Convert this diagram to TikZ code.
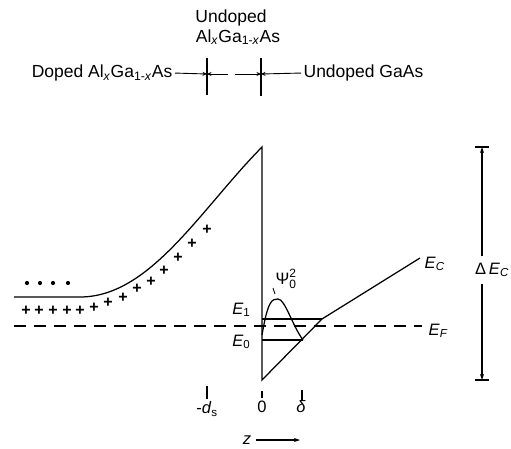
\documentclass[tikz,border=0pt]{standalone}
\usepackage{fontspec}
\setmainfont{Liberation Sans}
\usetikzlibrary{arrows.meta,positioning,calc}

\begin{document}
\begin{tikzpicture}[
  x=1pt, y=-1pt,
  >={Stealth[length=6pt,width=4pt]},
  line width=1.25pt,
  every node/.style={font=\fontsize{17.5}{19}\selectfont, inner sep=0pt},
  elabel/.style={font=\fontsize{16.5}{18}\selectfont},
  tip/.style={line width=0.9pt, -{Stealth[length=4.5pt,width=4pt]}},
  donor/.style={font=\fontsize{16}{16}\selectfont\bfseries}
]
  \useasboundingbox (0,0) rectangle (511,449);

  % Layer labels
  \node (undoped) at (231,18) {Undoped};
  \node (algaas) at (238,37) {Al\textsubscript{\textit{x}}Ga\textsubscript{1-\textit{x}}As};
  \node (doped) [anchor=east] at (173,73) {Doped Al\textsubscript{\textit{x}}Ga\textsubscript{1-\textit{x}}As};
  \node (gaas) [anchor=west] at (303,73) {Undoped GaAs};

  % Interfaces
  \coordinate (ifA) at (207,74);
  \coordinate (ifB) at (261,74);
  \coordinate (endA) at (228,74);
  \coordinate (startB) at (235,74);
  \draw ([yshift=16pt]ifA) -- ([yshift=-21pt]ifA);
  \draw ([yshift=16pt]ifB) -- ([yshift=-22pt]ifB);
  \draw[tip, shorten <=2pt] (doped.east) -- (ifA);
  \draw[tip] (endA) -- (ifA);
  \draw[tip] (startB) -- (ifB);
  \draw[tip, shorten <=2pt] (gaas.west) -- (ifB);

  % Conduction band
  \coordinate (flat) at (14,297);
  \coordinate (bend) at (80,297);
  \coordinate (spike) at (262,147);
  \coordinate (well) at (262,380);
  \coordinate (kink) at (322,319);
  \coordinate (ecEnd) at (420,258);
  \draw (flat) -- (bend) .. controls (150,297) and (200,210) .. (spike)
    -- (well) -- (kink) -- (ecEnd);
  \node (EC) [elabel, anchor=west] at (424,264) {\textit{E}\textsubscript{\textit{C}}};

  % Fermi level
  \coordinate (efL) at (14,326);
  \coordinate (efR) at (422,326);
  \draw[dash pattern=on 12pt off 8pt] (efL) -- (efR);
  \node (EF) [elabel, anchor=west] at (428,331) {\textit{E}\textsubscript{\textit{F}}};

  % Subbands
  \coordinate (e1L) at (262,319);
  \coordinate (e0L) at (262,340);
  \coordinate (e0R) at (303,340);
  \draw (e1L) -- (kink);
  \draw (e0L) -- (e0R);
  \node (E1) [elabel, anchor=east] at (251,310) {\textit{E}\textsubscript{1}};
  \node (E0) [elabel, anchor=east] at (251,342) {\textit{E}\textsubscript{0}};

  % Wave function
  \coordinate (psiA) at (262,335);
  \coordinate (psiTop) at (278,299);
  \draw (psiA) .. controls (268,300) and (272,299) .. (psiTop)
    .. controls (285,299) and (292,325) .. (e0R);
  \node (psi) [elabel] at (286,279) {$\mbox{Ψ}^{\mbox{\fontsize{12}{12}\selectfont 2}}_{\mbox{\fontsize{12}{12}\selectfont 0}}$};
  \draw[line width=0.9pt] (273,288) -- (275,294);

  % Donors and electrons
  \foreach \x/\y [count=\i] in {26/311, 39/311, 53/311, 67/311, 80/311, 94/308,
    108/303, 123/298, 137/289, 151/282, 164/271, 178/258, 192/244, 207/230}
    \node (d\i) [donor] at (\x,\y) {+};
  \foreach \x [count=\i] in {27,40,53,68}
    \fill (\x,283) circle (2.1pt);

  % Band offset
  \coordinate (dtop) at (482,147);
  \coordinate (dbot) at (482,380);
  \draw ([xshift=-7pt]dtop) -- ([xshift=7pt]dtop);
  \draw ([xshift=-7pt]dbot) -- ([xshift=7pt]dbot);
  \node (dEc) [elabel, inner ysep=6pt] at (492,270) {Δ\,\textit{E}\textsubscript{\textit{C}}};
  \draw[->] (dEc.north -| dtop) -- (dtop);
  \draw[->] (dEc.south -| dtop) -- (dbot);

  % Position axis
  \draw (207,386) -- (207,399);
  \draw (262,391) -- (262,398);
  \draw (302,390) -- (302,401);
  \node (ds) [elabel] at (207,409) {-\textit{d}\textsubscript{s}};
  \node (zero) [elabel] at (262,407) {0};
  \node (delta) [elabel] at (301,407) {\textit{δ}};
  \node (z) [elabel] at (247,440) {\textit{z}};
  \coordinate (zEnd) at (300,440);
  \draw[->] ([xshift=4pt]z.east) -- (zEnd);
\end{tikzpicture}
\end{document}
